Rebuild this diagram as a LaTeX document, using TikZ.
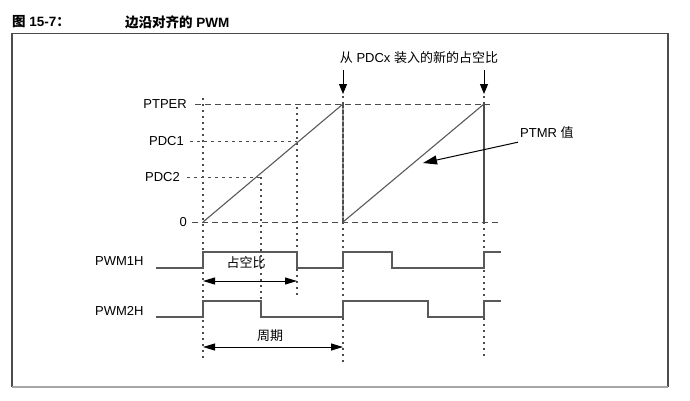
\documentclass[tikz,border=0pt]{standalone}
\usepackage{fontspec}
\setmainfont{Liberation Sans}
\newfontfamily\cjk{Noto Sans CJK SC}
\usetikzlibrary{arrows.meta}
\begin{document}
\begin{tikzpicture}[x=1pt,y=-1pt,
  lbl/.style={font=\fontsize{13}{15}\selectfont, inner sep=0pt},
  ttl/.style={font=\fontsize{13.5}{15}\selectfont\bfseries, inner sep=0pt, anchor=west},
  hdash/.style={draw=black!70, line width=1pt, dash pattern=on 6pt off 4pt},
  hdot/.style={draw=black!70, line width=1pt, dash pattern=on 3pt off 4pt},
  vdot/.style={draw=black!70, line width=1.3pt, dash pattern=on 1.5pt off 4.5pt},
  ramp/.style={draw=black!65, line width=1.1pt},
  sig/.style={draw=black!65, line width=1.6pt},
  pin/.style={draw=black, line width=1pt, -{Triangle[length=10pt,width=8pt]}},
  dim/.style={draw=black, line width=1pt, {Triangle[length=12pt,width=7pt]}-{Triangle[length=12pt,width=7pt]}},
  frame/.style={line width=1.6pt}
]
\useasboundingbox (0,0) rectangle (690,400);

% frame
\draw[frame, draw=black!70] (12,33) -- (12,387);
\draw[line width=1pt, draw=black!70] (12,33) -- (668,33);
\draw[frame, draw=black!70] (668,33) -- (668,387);
\draw[line width=1.2pt, draw=black!35] (12,387) -- (668,387);

% title
\node[ttl] (t1) at (12,22) {{\cjk 图} 15-7{\cjk ：}};
\node[ttl] (t2) at (125,22) {{\cjk 边沿对齐的} PWM};

% level labels
\node[lbl, anchor=east] (lptper) at (187,104) {PTPER};
\node[lbl, anchor=east] (lpdc1) at (184,141) {PDC1};
\node[lbl, anchor=east] (lpdc2) at (180,177) {PDC2};
\node[lbl, anchor=east] (lzero) at (187,222) {0};

% key coordinates
\coordinate (s0) at (203,222);
\coordinate (p1) at (343,104);
\coordinate (p0) at (343,222);
\coordinate (e1) at (484,104);
\coordinate (e0) at (484,222);
\coordinate (d2) at (261,177);
\coordinate (d1) at (297,141);

% horizontal level lines
\coordinate (hT0) at (195,104); \coordinate (hT1) at (490,104);
\coordinate (hA0) at (190,141);
\coordinate (hB0) at (187,177);
\coordinate (hZ0) at (192,222); \coordinate (hZ1) at (500,222);
\draw[hdash] (hT0) -- (hT1);
\draw[hdot] (hA0) -- (d1);
\draw[hdot] (hB0) -- (d2);
\draw[hdash] (hZ0) -- (hZ1);

% vertical guide lines
\coordinate (vS0) at (203,98);  \coordinate (vS1) at (203,362);
\coordinate (vB1) at (261,301);
\coordinate (vA0) at (297,107); \coordinate (vA1) at (297,296);
\coordinate (vP0) at (343,96);  \coordinate (vP1) at (343,366);
\coordinate (vE0) at (484,96);  \coordinate (vE1) at (484,359);
\draw[vdot] (vS0) -- (vS1);
\draw[vdot] (d2) -- (vB1);
\draw[vdot] (vA0) -- (vA1);
\draw[vdot] (vP0) -- (vP1);
\draw[vdot] (vE0) -- (vE1);
\draw[draw=black!40, line width=1.2pt] (p1) -- (p0);
\draw[draw=black!70, line width=1.4pt, dash pattern=on 4pt off 2pt] (p1) -- (p0);
\draw[draw=black!70, line width=1.5pt] (e1) -- (e0);

% ramps
\draw[ramp] (s0) -- (p1);
\draw[ramp] (p0) -- (e1);

% top note
\node[lbl] (note) at (419,58) {{\cjk 从} PDCx {\cjk 装入的新的占空比}};
\coordinate (a1s) at (343,70); \coordinate (a1e) at (343,94);
\coordinate (a2s) at (484,70); \coordinate (a2e) at (484,94);
\draw[pin] (a1s) -- (a1e);
\draw[pin] (a2s) -- (a2e);

% PTMR label
\node[lbl, anchor=west] (ptmr) at (520,133) {PTMR {\cjk 值}};
\coordinate (ptmrTip) at (423,163);
\draw[draw=black, line width=1pt, -{Triangle[length=14pt,width=9pt]}] (ptmr.south west) ++(-2,3) -- (ptmrTip);

% PWM signals
\node[lbl, anchor=west] (pwm1) at (95,261) {PWM1H};
\node[lbl, anchor=west] (pwm2) at (95,311) {PWM2H};
\coordinate (w1s) at (156,268);
\coordinate (w2s) at (156,317);
\draw[sig] (w1s) -- (203,268) -- (203,252) -- (297,252) -- (297,268) -- (343,268) -- (343,252) -- (392,252) -- (392,268) -- (484,268) -- (484,252) -- (501,252);
\draw[sig] (w2s) -- (203,317) -- (203,301) -- (261,301) -- (261,317) -- (343,317) -- (343,301) -- (428,301) -- (428,317) -- (484,317) -- (484,301) -- (501,301);

% dimension arrows
\coordinate (du0) at (203,281); \coordinate (du1) at (297,281);
\draw[dim] (du0) -- (du1);
\node[lbl] (duty) at (246,263) {\cjk 占空比};
\coordinate (pe0) at (203,347); \coordinate (pe1) at (343,347);
\draw[dim] (pe0) -- (pe1);
\node[lbl] (period) at (270,336) {\cjk 周期};
\end{tikzpicture}
\end{document}
